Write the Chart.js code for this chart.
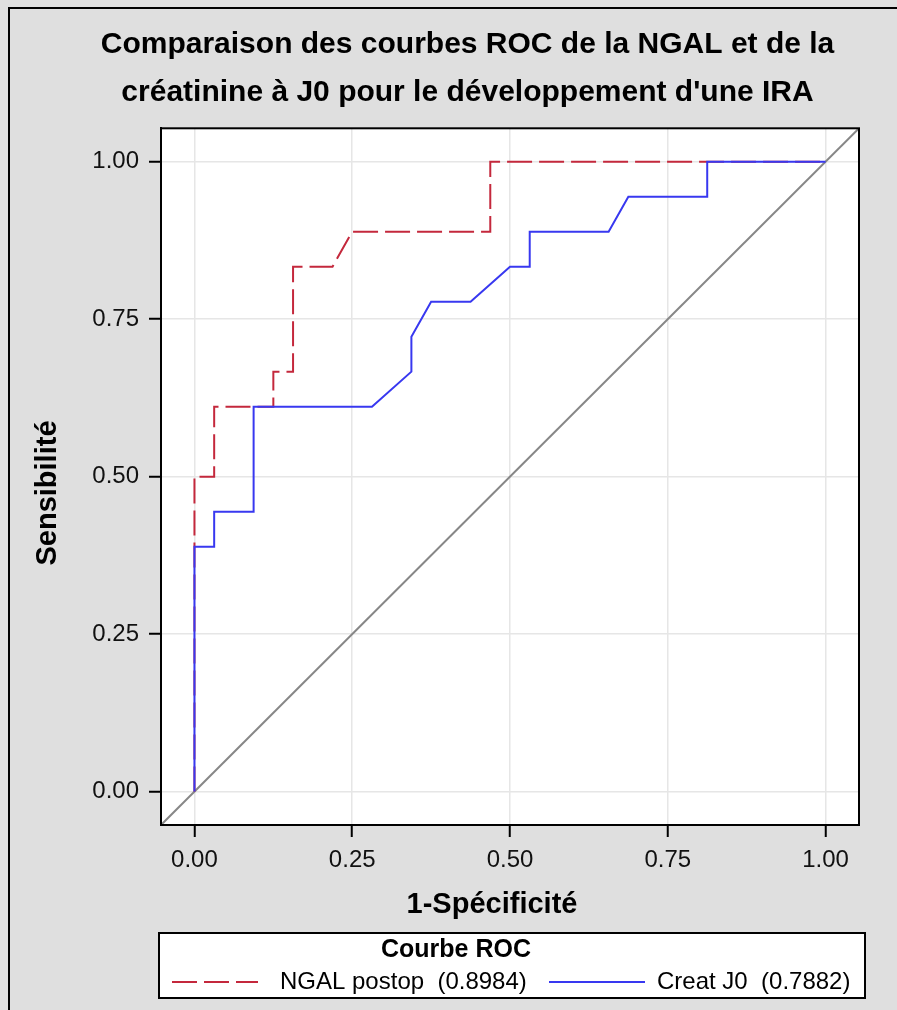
<!DOCTYPE html>
<html>
<head>
<meta charset="utf-8">
<script src="https://cdn.jsdelivr.net/npm/chart.js@4.4.1/dist/chart.umd.min.js"></script>
<style>
  html, body { margin: 0; padding: 0; background: #dfdfdf; }
  #wrap { width: 897px; height: 1010px; position: relative; }
</style>
</head>
<body>
<div id="wrap"><canvas id="c"></canvas></div>
<script>
// ---- data ----
const titleLines = ["Comparaison des courbes ROC de la NGAL et de la", "créatinine à J0 pour le développement d'une IRA"];
const xAxisTitle = "1-Spécificité";
const yAxisTitle = "Sensibilité";
const legendTitle = "Courbe ROC";
const seriesNames = ["NGAL postop  (0.8984)", "Creat J0  (0.7882)"];
const tickValues = [0, 0.25, 0.5, 0.75, 1];
const tickLabels = ["0.00", "0.25", "0.50", "0.75", "1.00"];

const ngalX = [0, 0, 0.03125, 0.03125, 0.125, 0.125, 0.15625, 0.15625, 0.21875, 0.25, 0.46875, 0.46875, 1];
const ngalY = [0, 0.5, 0.5, 0.6111, 0.6111, 0.6667, 0.6667, 0.8333, 0.8333, 0.8889, 0.8889, 1, 1];

const creatX = [0, 0, 0.03125, 0.03125, 0.09375, 0.09375, 0.28125, 0.34375, 0.34375, 0.375, 0.4375, 0.5, 0.53125, 0.53125, 0.65625, 0.6875, 0.8125, 0.8125, 1];
const creatY = [0, 0.3889, 0.3889, 0.4444, 0.4444, 0.6111, 0.6111, 0.6667, 0.7222, 0.7778, 0.7778, 0.8333, 0.8333, 0.8889, 0.8889, 0.9444, 0.9444, 1, 1];

const refX = [-0.06, 1.06];
const refY = [-0.06, 1.06];

// ---- styles ----
const FONT = '"Liberation Sans", Arial, sans-serif';
const RED = 'rgb(196,40,60)';
const BLUE = 'rgb(56,56,240)';
const GREY = 'rgb(135,135,135)';
const RED_DASH = [25, 7];

const toPts = (xs, ys) => xs.map((x, i) => ({ x: x, y: ys[i] }));

const framePlugin = {
  id: 'frame',
  beforeDraw(chart) {
    const ctx = chart.ctx;
    ctx.save();
    ctx.fillStyle = '#dfdfdf';
    ctx.fillRect(0, 0, chart.width, chart.height);
    ctx.strokeStyle = '#000';
    ctx.lineWidth = 2;
    ctx.beginPath();
    ctx.moveTo(9, chart.height + 5);
    ctx.lineTo(9, 8);
    ctx.lineTo(chart.width + 5, 8);
    ctx.stroke();
    const a = chart.chartArea;
    ctx.fillStyle = '#fff';
    ctx.fillRect(a.left, a.top, a.right - a.left, a.bottom - a.top);
    ctx.restore();
  },
  afterDraw(chart) {
    const ctx = chart.ctx;
    const a = chart.chartArea;
    ctx.save();
    // plot box
    ctx.strokeStyle = '#000';
    ctx.lineWidth = 2;
    ctx.strokeRect(a.left, a.top, a.right - a.left, a.bottom - a.top);
    // axis titles
    ctx.fillStyle = '#000';
    ctx.font = 'bold 29px ' + FONT;
    ctx.textAlign = 'center';
    ctx.textBaseline = 'alphabetic';
    ctx.fillText(xAxisTitle, 492, 913);
    ctx.save();
    ctx.translate(56, 493);
    ctx.rotate(-Math.PI / 2);
    ctx.fillText(yAxisTitle, 0, 0);
    ctx.restore();
    // legend
    const lx = 159, ly = 933, lw = 706, lh = 65;
    ctx.fillStyle = '#fff';
    ctx.fillRect(lx, ly, lw, lh);
    ctx.strokeStyle = '#000';
    ctx.lineWidth = 2;
    ctx.strokeRect(lx, ly, lw, lh);
    ctx.fillStyle = '#000';
    ctx.font = 'bold 25px ' + FONT;
    ctx.textAlign = 'center';
    ctx.fillText(legendTitle, 456, 957);
    // items
    const ds = chart.data.datasets;
    const items = [
      { d: ds[1], x0: 172, x1: 258, tx: 280 },
      { d: ds[0], x0: 549, x1: 645, tx: 657 }
    ];
    ctx.font = '24px ' + FONT;
    ctx.textAlign = 'left';
    items.forEach(it => {
      ctx.save();
      ctx.strokeStyle = it.d.borderColor;
      ctx.lineWidth = it.d.borderWidth;
      ctx.setLineDash(it.d.borderDash || []);
      ctx.beginPath();
      ctx.moveTo(it.x0, 982);
      ctx.lineTo(it.x1, 982);
      ctx.stroke();
      ctx.restore();
      ctx.fillStyle = '#000';
      ctx.fillText(it.d.label, it.tx, 989);
    });
    ctx.restore();
  }
};

const axisCommon = (isY) => ({
  type: 'linear',
  min: -0.053,
  max: 1.053,
  afterBuildTicks: (scale) => { scale.ticks = tickValues.map(v => ({ value: v })); },
  afterFit: (scale) => { if (isY) scale.width = 85; else scale.height = 185; },
  grid: {
    color: '#e6e6e6',
    lineWidth: 1.5,
    tickColor: '#000',
    tickLength: 12,
    tickWidth: 2,
    drawOnChartArea: true
  },
  border: { display: true, color: '#000', width: 2 },
  ticks: {
    color: '#111',
    font: { family: FONT, size: 24 },
    padding: isY ? 10 : 9,
    maxRotation: 0,
    autoSkip: false,
    callback: (v) => { const i = tickValues.indexOf(v); return i >= 0 ? tickLabels[i] : ''; }
  },
  title: { display: false }
});

new Chart(document.getElementById('c'), {
  type: 'scatter',
  data: {
    datasets: [
      { label: seriesNames[1], data: toPts(creatX, creatY), showLine: true, borderColor: BLUE, borderWidth: 2, pointRadius: 0, fill: false, tension: 0 },
      { label: seriesNames[0], data: toPts(ngalX, ngalY), showLine: true, borderColor: RED, borderWidth: 2, borderDash: RED_DASH, pointRadius: 0, fill: false, tension: 0 },
      { label: 'ref', data: toPts(refX, refY), showLine: true, borderColor: GREY, borderWidth: 2, pointRadius: 0, fill: false }
    ]
  },
  options: {
    responsive: true,
    maintainAspectRatio: false,
    animation: false,
    layout: { padding: { left: 76, right: 38, top: 0, bottom: 0 } },
    scales: { x: axisCommon(false), y: axisCommon(true) },
    plugins: {
      legend: { display: false },
      tooltip: { enabled: false },
      title: {
        display: true,
        text: titleLines,
        color: '#000',
        font: { family: FONT, size: 30, weight: 'bold', lineHeight: 1.6 },
        padding: { top: 20.7, bottom: 11.6 }
      }
    }
  },
  plugins: [framePlugin]
});
</script>
</body>
</html>
